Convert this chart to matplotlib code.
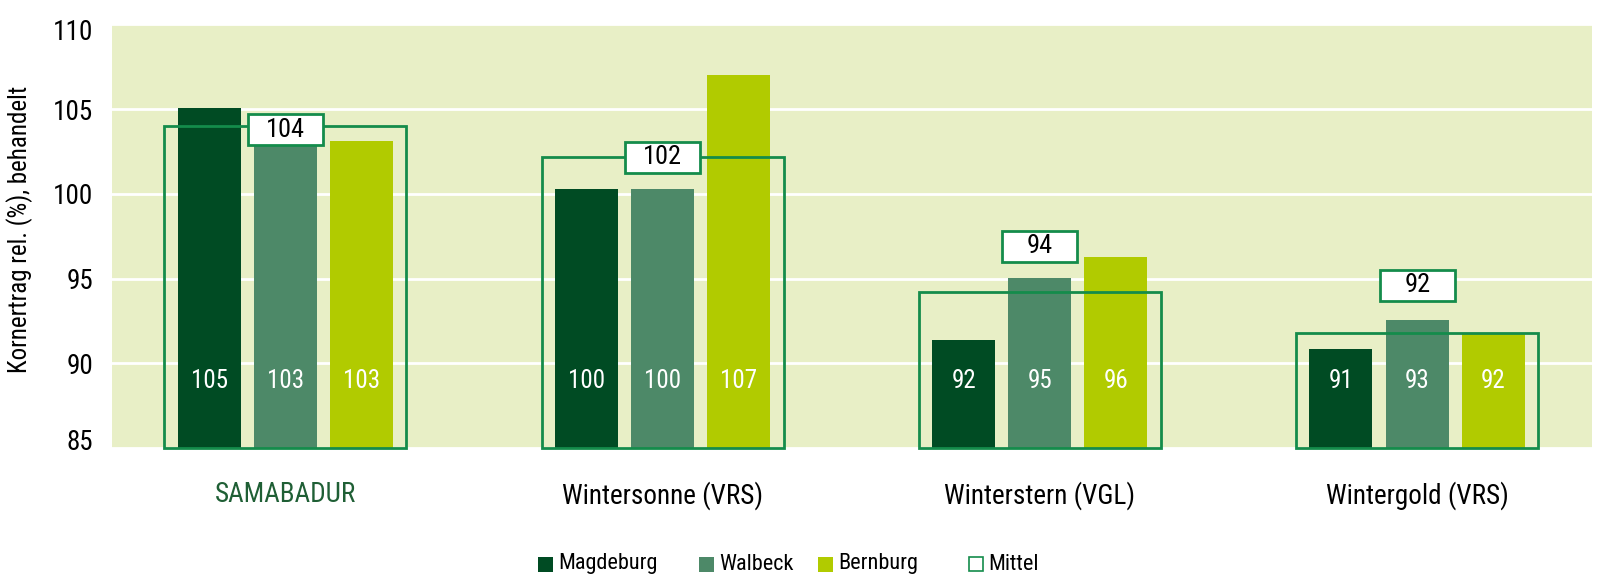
import matplotlib
matplotlib.use("Agg")
import matplotlib.pyplot as plt
from matplotlib import font_manager
from matplotlib.patches import Rectangle
import matplotlib.transforms as mtransforms
import numpy as np

# ---------------- data ----------------
categories = ["SAMABADUR", "Wintersonne (VRS)", "Winterstern (VGL)", "Wintergold (VRS)"]
series_names = ["Magdeburg", "Walbeck", "Bernburg"]
magdeburg = [105.05, 100.27, 91.4, 90.86]
walbeck = [103.2, 100.27, 95.06, 92.57]
bernburg = [103.1, 107.03, 96.25, 91.75]
magdeburg_labels = [105, 100, 92, 91]
walbeck_labels = [103, 100, 95, 93]
bernburg_labels = [103, 107, 96, 92]
mittel = [104.0, 102.16, 94.2, 91.8]
mittel_labels = [104, 102, 94, 92]
yticks = [85, 90, 95, 100, 105, 110]
ylabel = "Kornertrag rel. (%), behandelt"
legend_mittel = "Mittel"

# ---------------- style ----------------
c_mag = "#004b23"
c_wal = "#4d8968"
c_ber = "#b1cb00"
c_box = "#148c4b"
c_bg = "#e8efc6"
c_cat0 = "#1f5f35"

names = {f.name for f in font_manager.fontManager.ttflist}
stretch = "normal"
if "Roboto Condensed" in names:
    fam = "Roboto Condensed"
elif "Liberation Sans Narrow" in names:
    fam = "Liberation Sans Narrow"
else:
    fam = "DejaVu Sans"
    stretch = "condensed"
plt.rcParams["font.family"] = [fam, "DejaVu Sans"]
plt.rcParams["font.stretch"] = stretch

W, H = 1600, 587
fig = plt.figure(figsize=(W / 100, H / 100), dpi=100)
ax_l, ax_r, ax_t, ax_b = 112, 1592, 24.5, 448
ax = fig.add_axes([ax_l / W, 1 - ax_b / H, (ax_r - ax_l) / W, (ax_b - ax_t) / H])
ax.set_facecolor(c_bg)
for s in ax.spines.values():
    s.set_visible(False)

x = np.arange(len(categories))
bar_w = 0.167
offs = [-0.202, 0.0, 0.201]
series = [magdeburg, walbeck, bernburg]
series_lbl = [magdeburg_labels, walbeck_labels, bernburg_labels]
colors = [c_mag, c_wal, c_ber]

for vals, lbls, off, col in zip(series, series_lbl, offs, colors):
    ax.bar(x + off, vals, width=bar_w, color=col, zorder=2)
    for xi, lb in zip(x, lbls):
        ax.text(xi + off, 88.95, str(lb), color="white", ha="center", va="center",
                fontsize=18, zorder=6)

box_w = 0.6414
label_y = [mittel[0] - 0.2, mittel[1], 96.9, 94.6]
for xi, m, lb, ly in zip(x, mittel, mittel_labels, label_y):
    ax.add_patch(Rectangle((xi - box_w / 2, 85), box_w, m - 85, fill=False,
                           edgecolor=c_box, lw=2, zorder=3, clip_on=False))
    lw_, lh_ = 0.199, 1.86
    ax.add_patch(Rectangle((xi - lw_ / 2, ly - lh_ / 2), lw_, lh_, facecolor="white",
                           edgecolor=c_box, lw=2, zorder=4))
    ax.text(xi, ly, str(lb), color="black", ha="center", va="center",
            fontsize=19, zorder=5)

ax.set_xlim(-0.4593, 3.4633)
ax.set_ylim(85, 110)
ax.set_yticks(yticks)
ax.set_yticklabels([str(t) for t in yticks], fontsize=19.5)
ax.yaxis.grid(True, color="white", lw=2)
ax.xaxis.grid(False)
ax.set_axisbelow(True)
ax.tick_params(axis="y", length=0, pad=13.5)
ax.tick_params(axis="x", length=0, pad=24)
ax.set_xticks(x)
ax.set_xticklabels(categories, fontsize=19.5)
ax.get_xticklabels()[0].set_color(c_cat0)

# nudge the edge tick labels
tl = ax.get_yticklabels()
tl[0].set_transform(tl[0].get_transform() + mtransforms.ScaledTranslation(0, 8 / 100, fig.dpi_scale_trans))
tl[-1].set_transform(tl[-1].get_transform() + mtransforms.ScaledTranslation(0, -5 / 100, fig.dpi_scale_trans))

fig.text(20 / W, 1 - 229 / H, ylabel, rotation=90, ha="center", va="center", fontsize=18)

# legend (manual)
leg_sq = [538, 699, 818, 968.5]
leg_y = 564
sq = 15
leg_names = series_names + [legend_mittel]
for i, (lx, nm) in enumerate(zip(leg_sq, leg_names)):
    if i < 3:
        p = Rectangle((lx / W, 1 - (leg_y + sq / 2) / H), sq / W, sq / H,
                      transform=fig.transFigure, facecolor=colors[i], edgecolor="none")
    else:
        p = Rectangle(((lx + 0.75) / W, 1 - (leg_y + sq / 2 - 0.75) / H), (sq - 1.5) / W, (sq - 1.5) / H,
                      transform=fig.transFigure, facecolor="white", edgecolor=c_box, lw=1.2)
    fig.add_artist(p)
    fig.text((lx + sq + 5) / W, 1 - leg_y / H, nm, ha="left", va="center", fontsize=16)

fig.savefig("out.png", dpi=100, facecolor="white")
